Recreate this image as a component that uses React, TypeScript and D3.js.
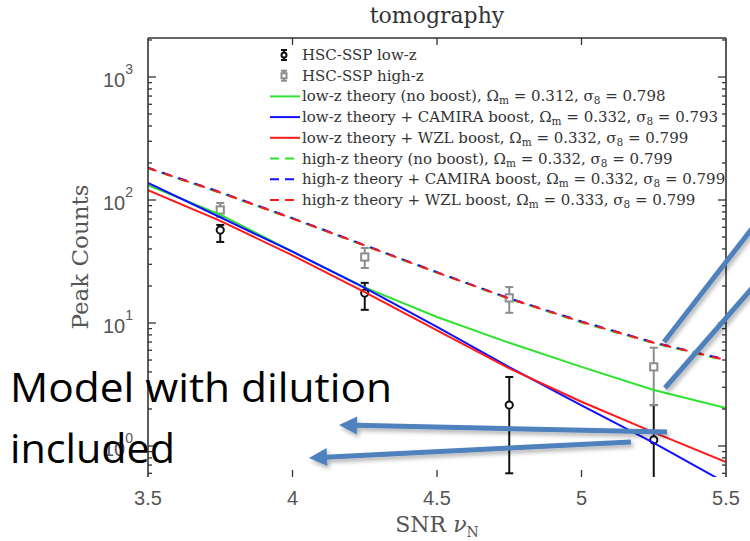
import React from 'react';
import * as d3 from 'd3';

// ---------- data ----------
const snrGrid = [3.5, 3.75, 4.0, 4.25, 4.5, 4.75, 5.0, 5.25, 5.5];
const lowZNoBoost = [132, 76, 38, 19.5, 11.2, 6.9, 4.4, 2.85, 2.04];
const lowZCamira = [138, 72.4, 38, 19.3, 9.3, 4.37, 2.14, 1.06, 0.5];
const lowZWzl = [120, 67.6, 35.5, 17.8, 8.7, 4.27, 2.29, 1.29, 0.74];
const highZNoBoost = [181, 114, 70.5, 42.5, 25.6, 15.7, 10.1, 6.85, 4.95];
const highZCamira = [183, 116, 71.2, 43, 25.9, 15.9, 10.3, 6.95, 5.05];
const highZWzl = [182, 115, 70.8, 42.7, 25.7, 15.8, 10.2, 6.9, 5.0];

const obsSnr = [3.75, 4.25, 4.75, 5.25];
const lowZObs = [57, 17.5, 2.15, 1.12];
const lowZLo = [45.6, 12.8, 0.6, 0.35];
const lowZHi = [62.7, 21.2, 3.64, 2.15];
const highZObs = [83, 34.4, 16, 4.4];
const highZLo = [72.8, 28, 12.1, 2.15];
const highZHi = [94.6, 40.7, 19.6, 6.3];

const xTickValues = [3.5, 4, 4.5, 5, 5.5];
const xTickLabels = ['3.5', '4', '4.5', '5', '5.5'];
const yTickExponents = [0, 1, 2, 3];

const legendLabels = [
  'HSC-SSP low-z',
  'HSC-SSP high-z',
  'low-z theory (no boost)',
  'low-z theory + CAMIRA boost',
  'low-z theory + WZL boost',
  'high-z theory (no boost)',
  'high-z theory + CAMIRA boost',
  'high-z theory + WZL boost',
];
const legendOmega = ['', '', '0.312', '0.332', '0.332', '0.332', '0.332', '0.333'];
const legendSigma = ['', '', '0.798', '0.793', '0.799', '0.799', '0.799', '0.799'];

const annotationTexts = ['Model with dilution', 'included'];

// ---------- layout ----------
const W = 750;
const H = 541;
const L = 148;
const R = 726;
const T = 38;
const B = 477;

const x = d3.scaleLinear().domain([3.5, 5.5]).range([L, R]);
const y = d3.scaleLog().domain([1, 1000]).range([446, 77]);

const GREEN = '#2fe22f';
const BLUE = '#1010ff';
const RED = '#ff1a1a';
const GRAY = '#8c8c8c';

const theorySeries = [
  { values: lowZNoBoost, color: GREEN, dash: null as string | null, offset: 0 },
  { values: lowZCamira, color: BLUE, dash: null, offset: 0 },
  { values: lowZWzl, color: RED, dash: null, offset: 0 },
  { values: highZNoBoost, color: GREEN, dash: '9,8', offset: 3 },
  { values: highZCamira, color: BLUE, dash: '9,8', offset: 2 },
  { values: highZWzl, color: RED, dash: '9,8', offset: 0 },
];

const lineGen = d3
  .line<number>()
  .x((_, i) => x(snrGrid[i]))
  .y((d) => y(d));

function ErrorSeries({ obs, lo, hi, color, marker }: { obs: number[]; lo: number[]; hi: number[]; color: string; marker: 'circle' | 'square' }) {
  return (
    <g stroke={color} strokeWidth={2} fill="none">
      {obs.map((v, i) => {
        const cx = x(obsSnr[i]);
        const cy = y(v);
        const y1 = y(hi[i]);
        const y2 = y(lo[i]);
        return (
          <g key={i}>
            <line x1={cx} x2={cx} y1={y1} y2={y2} />
            <line x1={cx - 4} x2={cx + 4} y1={y1} y2={y1} />
            <line x1={cx - 4} x2={cx + 4} y1={y2} y2={y2} />
            {marker === 'circle' ? (
              <circle cx={cx} cy={cy} r={3.6} fill="#fff" />
            ) : (
              <rect x={cx - 3.6} y={cy - 3.6} width={7.2} height={7.2} fill="#fff" />
            )}
          </g>
        );
      })}
    </g>
  );
}

function LegendText({ i, tx, ty }: { i: number; tx: number; ty: number }) {
  if (!legendOmega[i]) {
    return (
      <text x={tx} y={ty} fontFamily="DejaVu Serif" fontSize={15} fill="#333">
        {legendLabels[i]}
      </text>
    );
  }
  return (
    <text x={tx} y={ty} fontFamily="DejaVu Serif" fontSize={15} fill="#333">
      {legendLabels[i] + ', Ω'}
      <tspan fontSize={10.5} dy={3}>m</tspan>
      <tspan dy={-3}>{' = ' + legendOmega[i] + ', σ'}</tspan>
      <tspan fontSize={10.5} dy={3}>8</tspan>
      <tspan dy={-3}>{' = ' + legendSigma[i]}</tspan>
    </text>
  );
}

function Arrow({ x1, y1, x2, y2, head }: { x1: number; y1: number; x2: number; y2: number; head: boolean }) {
  const dx = x2 - x1;
  const dy = y2 - y1;
  const len = Math.sqrt(dx * dx + dy * dy);
  const ux = dx / len;
  const uy = dy / len;
  const hl = 18;
  const hw = 9;
  const ex = head ? x2 - ux * (hl - 2) : x2;
  const ey = head ? y2 - uy * (hl - 2) : y2;
  const bx = x2 - ux * hl;
  const by = y2 - uy * hl;
  const pts = `${x2},${y2} ${bx - uy * hw},${by + ux * hw} ${bx + uy * hw},${by - ux * hw}`;
  return (
    <g filter="url(#shadow)">
      <line x1={x1} y1={y1} x2={ex} y2={ey} stroke="#4f81bd" strokeWidth={5} />
      {head && <polygon points={pts} fill="#4f81bd" />}
    </g>
  );
}

const arrowDefs = [
  { x1: 667, y1: 432, x2: 339, y2: 425, head: true },
  { x1: 631, y1: 442, x2: 309, y2: 458, head: true },
  { x1: 664, y1: 342, x2: 754, y2: 226, head: false },
  { x1: 665, y1: 388, x2: 754, y2: 286, head: false },
];

export default function App() {
  const yTicks: { v: number; major: boolean }[] = [];
  for (let k = -1; k <= 3; k++) {
    for (let m = 1; m <= 9; m++) {
      const v = m * Math.pow(10, k);
      const yy = y(v);
      if (yy >= T && yy <= B) yTicks.push({ v, major: m === 1 });
    }
  }
  const legendRowY = (i: number) => 55 + i * 20.7;
  const sampleX1 = 270;
  const sampleX2 = 300;
  const textX = 302;

  return (
    <svg width={W} height={H} style={{ position: 'absolute', left: 0, top: 0 }}>
      <defs>
        <clipPath id="plotClip">
          <rect x={L} y={T} width={R - L} height={B - T} />
        </clipPath>
        <filter id="shadow" x="-10%" y="-50%" width="120%" height="200%">
          <feDropShadow dx={2} dy={3} stdDeviation={2} floodColor="#000" floodOpacity={0.3} />
        </filter>
      </defs>
      <rect x={0} y={0} width={W} height={H} fill="#fff" />

      <text x={(L + R) / 2} y={23} textAnchor="middle" fontFamily="DejaVu Serif" fontSize={22} fill="#333">
        tomography
      </text>

      <g clipPath="url(#plotClip)">
        <ErrorSeries obs={lowZObs} lo={lowZLo} hi={lowZHi} color="#111" marker="circle" />
        <ErrorSeries obs={highZObs} lo={highZLo} hi={highZHi} color={GRAY} marker="square" />
        {theorySeries.map((s, i) => (
          <path
            key={i}
            d={lineGen(s.values) || ''}
            fill="none"
            stroke={s.color}
            strokeWidth={2}
            strokeDasharray={s.dash || undefined}
            strokeDashoffset={s.offset}
          />
        ))}
      </g>

      <g stroke="#333" strokeWidth={1.6} fill="none">
        <line x1={L} x2={L} y1={T} y2={B} />
        <line x1={R} x2={R} y1={T} y2={B} />
        <line x1={L} x2={R} y1={T} y2={T} />
      </g>
      <g stroke="#333" strokeWidth={1.3}>
        {yTicks.map((t, i) => {
          const yy = y(t.v);
          const len = t.major ? 8 : 4;
          return (
            <g key={i}>
              <line x1={L} x2={L + len} y1={yy} y2={yy} />
              <line x1={R} x2={R - len} y1={yy} y2={yy} />
            </g>
          );
        })}
        {xTickValues.slice(1, -1).map((v, i) => (
          <g key={i}>
            <line x1={x(v)} x2={x(v)} y1={T} y2={T + 7} />
            <line x1={x(v)} x2={x(v)} y1={B} y2={B - 7} />
          </g>
        ))}
      </g>

      {yTickExponents.map((e) => (
        <text key={e} x={133} y={y(Math.pow(10, e)) + 10} textAnchor="end" fontFamily="Liberation Sans" fontSize={20} fill="#555">
          10
          <tspan fontSize={14} dy={-13}>{String(e)}</tspan>
        </text>
      ))}
      {xTickValues.map((v, i) => (
        <text key={i} x={x(v)} y={505} textAnchor="middle" fontFamily="Liberation Sans" fontSize={20} fill="#555">
          {xTickLabels[i]}
        </text>
      ))}

      <text x={(L + R) / 2} y={532} textAnchor="middle" fontFamily="DejaVu Serif" fontSize={22} fill="#555">
        SNR <tspan fontStyle="italic">ν</tspan>
        <tspan fontSize={14} dy={5}>N</tspan>
      </text>
      <text transform="translate(88,257) rotate(-90)" textAnchor="middle" fontFamily="DejaVu Serif" fontSize={23} fill="#555">
        Peak Counts
      </text>

      <g>
        <g stroke="#111" strokeWidth={2} fill="#fff">
          <line x1={284} x2={284} y1={legendRowY(0) - 5} y2={legendRowY(0) + 5} />
          <line x1={281} x2={287} y1={legendRowY(0) - 5} y2={legendRowY(0) - 5} />
          <line x1={281} x2={287} y1={legendRowY(0) + 5} y2={legendRowY(0) + 5} />
          <circle cx={284} cy={legendRowY(0)} r={2.5} />
        </g>
        <g stroke={GRAY} strokeWidth={2} fill="#fff">
          <line x1={284} x2={284} y1={legendRowY(1) - 5} y2={legendRowY(1) + 5} />
          <line x1={281} x2={287} y1={legendRowY(1) - 5} y2={legendRowY(1) - 5} />
          <line x1={281} x2={287} y1={legendRowY(1) + 5} y2={legendRowY(1) + 5} />
          <rect x={281.5} y={legendRowY(1) - 2.5} width={5} height={5} />
        </g>
        {theorySeries.map((s, i) => (
          <line
            key={i}
            x1={sampleX1}
            x2={sampleX2}
            y1={legendRowY(i + 2)}
            y2={legendRowY(i + 2)}
            stroke={s.color}
            strokeWidth={2}
            strokeDasharray={s.dash ? '9,6' : undefined}
          />
        ))}
        {legendLabels.map((_, i) => (
          <LegendText key={i} i={i} tx={textX} ty={legendRowY(i) + 5} />
        ))}
      </g>

      {arrowDefs.map((a, i) => (
        <Arrow key={i} {...a} />
      ))}
      <text x={10} y={402} fontFamily="Open Sans" fontSize={40} fill="#000" textLength={382} lengthAdjust="spacingAndGlyphs">
        {annotationTexts[0]}
      </text>
      <text x={10} y={463} fontFamily="Open Sans" fontSize={40} fill="#000" textLength={165} lengthAdjust="spacingAndGlyphs">
        {annotationTexts[1]}
      </text>
    </svg>
  );
}
